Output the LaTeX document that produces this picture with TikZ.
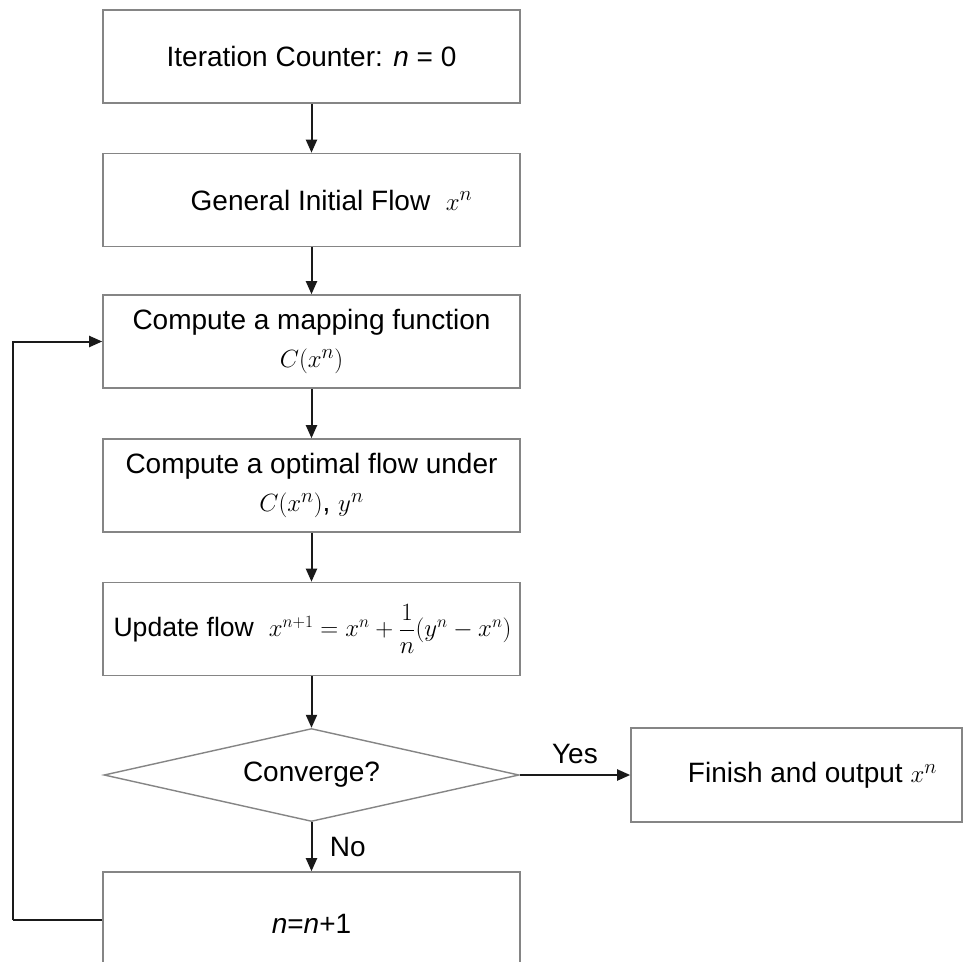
\documentclass[tikz,border=0pt]{standalone}
\usepackage{fontspec}
\setmainfont{Liberation Sans}
\usetikzlibrary{arrows.meta,shapes.geometric}
\definecolor{boxgray}{HTML}{858585}
\definecolor{linedark}{HTML}{1A1A1A}

\begin{document}
\begin{tikzpicture}[x=1pt,y=-1pt,
  txt/.style={font=\fontsize{28}{38}\selectfont},
  box/.style={txt, draw=boxgray, line width=1.6pt, minimum width=417pt,
    minimum height=93pt, inner sep=0pt, align=center},
  decision/.style={txt, diamond, aspect=4.46, draw=boxgray, line width=1.4pt,
    minimum width=415pt, minimum height=93pt, inner sep=0pt},
  arr/.style={draw=linedark, line width=2pt,
    -{Triangle[length=13pt,width=11pt]}},
  link/.style={draw=linedark, line width=2pt}
]
  % page area and white background
  \fill[white] (0,0) rectangle (963,961);
  \clip (0,0) rectangle (963,961);

  % process steps
  \node[box] (b1) at (311.5,56.5) {Iteration Counter: \textit{n} = 0};
  \node[box] (b2) at (311.5,200) {\hspace*{40pt}General Initial Flow\ \ $x^n$};
  \node[box] (b3) at (311.5,341.5) {Compute a mapping function\\ $C(x^n)$};
  \node[box] (b4) at (311.5,485.5) {Compute a optimal flow under\\ $C(x^n)$, $y^n$};
  \node[box, font=\fontsize{26.6}{38}\selectfont] (b5) at (311.5,629)
    {\hspace*{2pt}Update flow\ \ $x^{n+1} = x^n + {\displaystyle\frac{1}{n}}(y^n - x^n)$};
  \node[decision] (conv) at (311.5,775) {Converge?};
  \node[box, minimum width=331pt, minimum height=94pt] (fin) at (796.5,775)
    {\hspace*{32pt}Finish and output $x^n$};
  \node[box, minimum height=104pt] (b6) at (311.5,924) {\textit{n}=\textit{n}+1};

  % main flow
  \draw[arr] (b1) -- (b2);
  \draw[arr] (b2) -- (b3);
  \draw[arr] (b3) -- (b4);
  \draw[arr] (b4) -- (b5);
  \draw[arr] (b5) -- (conv);
  \draw[arr] (conv.east) -- node[txt, above=7pt] (yes) {Yes} (fin.west);
  \draw[arr] (conv.south) -- node[txt, right=14pt] (no) {No} (b6.north);

  % feedback loop back to the mapping step
  \coordinate (loop) at (13,920);
  \draw[link] (b6.west |- loop) -- (loop);
  \draw[arr] (loop) |- (b3.west);
\end{tikzpicture}
\end{document}
